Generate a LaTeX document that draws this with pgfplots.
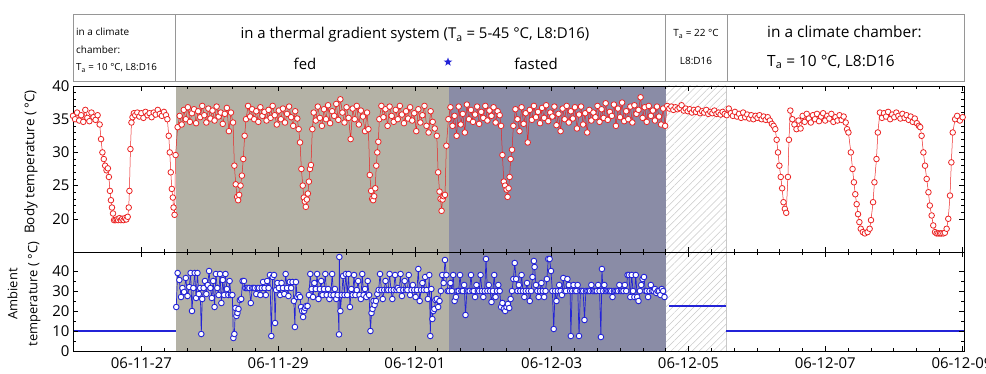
\documentclass[border=0pt]{standalone}
\usepackage{fontspec}
\setmainfont{Open Sans}
\usepackage{pgfplots}
\pgfplotsset{compat=1.18}
\usetikzlibrary{patterns.meta,shapes.geometric}
\definecolor{fedc}{RGB}{180,178,166}
\definecolor{fastc}{RGB}{138,140,166}
\definecolor{bodyred}{RGB}{235,35,35}
\definecolor{ambblue}{RGB}{35,35,215}
\definecolor{boxgray}{RGB}{150,150,150}
\definecolor{hatchc}{RGB}{200,200,200}
\begin{document}
\begin{tikzpicture}
\path[use as bounding box] (0,0) rectangle (986bp,374bp);
\pgfplotsset{
 common/.style={
  scale only axis, width=891bp,
  xmin=-1, xmax=12.03,
  xtick={0,2,...,12}, minor x tick num=5,
  tick align=inside, ticks=both,
  major tick length=5bp, minor tick length=3bp,
  axis on top, axis line style={line width=0.8pt},
  every tick/.style={black, line width=0.5pt},
  /pgf/number format/assume math mode=true,
  ticklabel style={font=\fontsize{15}{17}\selectfont},
  xticklabel style={yshift=-3bp},
 },
}
% ---------------- body temperature ----------------
\begin{axis}[common, at={(73bp,122bp)}, anchor=south west, height=166bp,
  ymin=15, ymax=40, ytick={20,25,...,40}, minor y tick num=4, xticklabels={}]
\fill[fedc] (axis cs:0.5,15) rectangle (axis cs:4.5,40);
\fill[fastc] (axis cs:4.5,15) rectangle (axis cs:7.67,40);
\fill[pattern={Lines[angle=45,distance=5pt,line width=0.5pt]}, pattern color=hatchc] (axis cs:7.67,15) rectangle (axis cs:8.55,40);
\draw[hatchc] (axis cs:8.55,15) -- (axis cs:8.55,40);
\addplot[bodyred, line width=0.5pt, mark=*, mark size=2.8bp, mark options={fill=white, draw=bodyred, line width=0.8pt}] table {
x y
-1.00 35.5
-0.97 35.0
-0.94 36.0
-0.91 34.8
-0.88 35.6
-0.85 34.6
-0.82 36.4
-0.79 35.2
-0.76 34.7
-0.73 36.0
-0.70 35.3
-0.67 34.9
-0.64 35.6
-0.61 34.2
-0.59 32.0
-0.57 30.0
-0.55 29.0
-0.53 28.0
-0.51 27.3
-0.49 27.6
-0.475 26.3
-0.46 24.2
-0.445 22.8
-0.43 21.7
-0.415 20.8
-0.40 19.8
-0.38 19.8
-0.36 19.9
-0.34 19.8
-0.32 20.1
-0.30 19.8
-0.28 20.0
-0.26 19.8
-0.24 20.1
-0.22 19.9
-0.20 20.3
-0.185 21.7
-0.175 24.2
-0.16 30.5
-0.145 34.5
-0.13 35.3
-0.11 35.9
-0.09 35.6
-0.06 36.0
-0.03 35.4
0.00 35.9
0.03 35.2
0.06 36.1
0.09 35.6
0.12 35.9
0.15 35.3
0.18 36.0
0.21 35.7
0.24 36.4
0.27 35.8
0.30 35.5
0.33 36.1
0.36 35.6
0.38 35.0
0.40 32.5
0.415 30.0
0.43 27.0
0.445 24.5
0.46 23.2
0.47 21.7
0.485 20.6
0.50 29.6
0.53 33.8
0.56 35.5
0.59 34.2
0.62 36.4
0.65 35.0
0.68 36.8
0.71 34.6
0.74 35.9
0.77 36.5
0.80 34.4
0.83 36.2
0.86 35.3
0.89 37.0
0.92 35.6
0.95 34.5
0.98 36.6
1.01 35.1
1.04 36.3
1.07 34.8
1.10 36.9
1.13 35.4
1.16 36.0
1.19 34.3
1.22 35.8
1.25 36.7
1.28 33.2
1.31 36.0
1.34 34.5
1.36 28.0
1.38 25.2
1.40 23.3
1.415 22.8
1.43 23.6
1.45 25.0
1.47 26.5
1.49 29.0
1.51 32.5
1.53 35.0
1.56 37.0
1.59 35.4
1.62 36.5
1.65 35.0
1.68 36.2
1.71 34.6
1.74 36.8
1.77 35.5
1.80 36.1
1.83 34.8
1.86 36.4
1.89 35.2
1.92 37.0
1.95 35.6
1.98 34.2
2.01 36.3
2.04 35.0
2.07 36.6
2.10 34.5
2.13 35.8
2.16 36.9
2.19 35.3
2.22 34.0
2.25 36.2
2.28 35.1
2.30 33.5
2.32 31.5
2.34 27.5
2.36 25.0
2.375 23.2
2.39 22.6
2.405 21.8
2.42 22.9
2.435 23.8
2.45 25.6
2.465 27.5
2.48 28.1
2.50 33.5
2.52 36.0
2.55 34.8
2.58 36.9
2.61 35.2
2.64 34.0
2.67 36.5
2.70 35.0
2.73 37.1
2.76 34.4
2.79 36.2
2.82 35.5
2.85 37.3
2.88 34.9
2.91 38.0
2.94 36.0
2.97 34.5
3.00 36.8
3.03 35.2
3.06 32.0
3.09 36.6
3.12 35.0
3.15 37.0
3.18 34.2
3.21 36.3
3.24 35.4
3.27 33.2
3.30 36.0
3.32 33.5
3.34 26.6
3.36 24.2
3.375 23.0
3.39 22.8
3.405 23.4
3.42 24.6
3.435 28.0
3.45 30.0
3.465 31.6
3.48 35.0
3.51 37.0
3.54 35.3
3.57 36.5
3.60 34.0
3.63 36.9
3.66 35.5
3.69 34.6
3.72 36.4
3.75 35.0
3.78 37.0
3.81 35.7
3.84 34.4
3.87 36.2
3.90 35.1
3.93 36.8
3.96 34.8
3.99 35.9
4.02 33.2
4.05 36.5
4.08 34.5
4.11 35.6
4.14 37.0
4.17 34.0
4.20 33.0
4.23 36.2
4.26 34.6
4.29 33.6
4.32 32.5
4.34 27.0
4.36 24.1
4.375 23.0
4.39 21.2
4.405 22.9
4.42 23.4
4.44 23.6
4.46 31.0
4.49 35.0
4.52 36.8
4.55 34.0
4.58 35.5
4.61 32.5
4.64 36.9
4.67 34.2
4.70 35.8
4.73 33.0
4.76 37.2
4.79 35.0
4.82 36.4
4.85 34.6
4.88 35.7
4.91 36.9
4.94 34.3
4.97 36.1
5.00 35.2
5.03 37.0
5.06 34.8
5.09 36.3
5.12 35.5
5.15 36.8
5.18 34.5
5.21 36.2
5.24 35.6
5.26 34.0
5.28 29.6
5.30 25.6
5.32 25.0
5.34 24.4
5.355 23.3
5.37 24.6
5.385 26.3
5.40 29.0
5.42 30.4
5.44 34.0
5.47 36.5
5.50 35.0
5.53 33.2
5.56 36.8
5.59 34.3
5.62 35.9
5.65 31.5
5.68 36.4
5.71 34.9
5.74 37.0
5.77 35.3
5.80 36.1
5.83 34.4
5.86 36.7
5.89 35.2
5.92 37.1
5.95 34.7
5.98 36.0
6.01 35.4
6.04 36.9
6.07 34.1
6.10 35.8
6.13 33.2
6.16 36.6
6.19 35.0
6.22 37.0
6.25 34.5
6.28 36.2
6.31 35.1
6.34 36.8
6.37 33.6
6.40 35.7
6.43 36.9
6.46 34.2
6.49 35.9
6.52 33.0
6.55 36.4
6.58 34.8
6.61 36.0
6.64 35.3
6.67 37.0
6.70 34.6
6.73 36.5
6.76 35.2
6.79 37.4
6.82 34.9
6.85 36.1
6.88 35.5
6.91 37.2
6.94 34.0
6.97 36.6
7.00 35.3
7.03 37.5
7.06 34.7
7.09 36.2
7.12 35.0
7.15 36.9
7.18 34.5
7.21 37.1
7.24 35.8
7.27 36.4
7.30 38.3
7.33 35.2
7.36 36.8
7.39 34.6
7.42 37.0
7.45 35.5
7.48 36.3
7.51 34.8
7.54 36.9
7.57 35.4
7.60 34.2
7.63 36.6
7.66 34.0
7.69 37.0
7.72 36.6
7.75 36.9
7.78 36.4
7.81 36.8
7.84 36.5
7.87 36.7
7.90 37.1
7.93 36.3
7.96 36.6
7.99 36.2
8.02 36.5
8.05 36.0
8.08 36.4
8.11 36.1
8.14 36.5
8.17 35.9
8.20 36.2
8.23 36.0
8.26 36.4
8.29 35.8
8.32 36.1
8.35 35.9
8.38 36.3
8.41 35.8
8.44 36.0
8.47 35.7
8.50 36.1
8.53 35.8
8.56 35.6
8.59 36.6
8.62 35.9
8.65 35.5
8.68 36.1
8.71 35.4
8.74 35.8
8.77 35.2
8.80 36.0
8.83 35.3
8.86 35.7
8.89 35.1
8.92 35.6
8.95 35.0
8.98 35.5
9.01 35.2
9.04 35.6
9.07 35.0
9.10 35.4
9.13 34.9
9.16 35.3
9.19 34.8
9.22 34.3
9.245 34.0
9.27 33.5
9.29 31.9
9.31 30.0
9.33 28.0
9.35 26.3
9.37 24.6
9.39 22.5
9.41 21.5
9.43 20.9
9.455 26.3
9.47 31.9
9.49 36.3
9.52 35.0
9.55 34.2
9.58 33.5
9.61 34.8
9.64 33.6
9.67 35.5
9.70 34.6
9.73 35.8
9.76 35.1
9.79 34.5
9.82 35.6
9.85 35.0
9.88 35.8
9.91 34.7
9.94 35.4
9.97 35.9
10.00 34.8
10.03 35.5
10.06 35.1
10.09 35.8
10.12 34.6
10.15 35.3
10.18 34.8
10.21 35.6
10.24 34.9
10.27 35.4
10.30 34.5
10.32 33.5
10.34 33.0
10.375 30.0
10.40 27.5
10.42 25.5
10.44 23.7
10.46 22.2
10.48 20.7
10.50 19.5
10.52 18.5
10.55 18.0
10.58 17.8
10.62 18.0
10.65 18.5
10.67 19.8
10.70 22.5
10.72 25.5
10.75 29.0
10.77 33.0
10.80 36.0
10.83 35.2
10.86 35.9
10.89 35.4
10.92 36.1
10.95 35.0
10.98 35.7
11.01 35.3
11.04 36.0
11.07 35.5
11.10 35.1
11.13 35.8
11.16 35.2
11.19 35.6
11.22 34.9
11.25 35.4
11.28 34.6
11.31 35.1
11.34 34.4
11.37 34.0
11.39 33.8
11.41 32.5
11.436 30.0
11.46 28.0
11.484 26.0
11.51 24.0
11.53 22.0
11.557 20.5
11.58 19.0
11.606 18.0
11.63 17.8
11.655 17.8
11.68 17.8
11.70 17.8
11.728 17.8
11.75 17.9
11.776 18.5
11.80 20.0
11.825 23.5
11.845 28.5
11.865 33.0
11.90 35.0
11.93 35.5
11.97 34.8
12.01 35.3
};
\end{axis}
% ---------------- ambient temperature ----------------
\begin{axis}[common, at={(73bp,23bp)}, anchor=south west, height=99bp,
  ymin=0, ymax=49.5, ytick={0,10,...,40}, minor y tick num=1,
  xticklabels={06-11-27,06-11-29,06-12-01,06-12-03,06-12-05,06-12-07,06-12-09}]
\fill[fedc] (axis cs:0.5,0) rectangle (axis cs:4.5,49.5);
\fill[fastc] (axis cs:4.5,0) rectangle (axis cs:7.67,49.5);
\fill[pattern={Lines[angle=45,distance=5pt,line width=0.5pt]}, pattern color=hatchc] (axis cs:7.67,0) rectangle (axis cs:8.55,49.5);
\draw[hatchc] (axis cs:8.55,0) -- (axis cs:8.55,49.5);
\addplot[ambblue, line width=2pt] coordinates {(-1,10.2) (0.5,10.2)};
\addplot[ambblue, line width=2pt] coordinates {(7.71,22.6) (8.55,22.6)};
\addplot[ambblue, line width=2pt] coordinates {(8.55,10.2) (12.03,10.2)};
\addplot[ambblue, line width=0.7pt, mark=*, mark size=2.8bp, mark options={fill=white, draw=ambblue, line width=0.9pt}] table {
x y
0.51 22.0
0.53 39.0
0.555 35.5
0.58 27.0
0.60 31.5
0.625 29.5
0.65 36.5
0.675 27.5
0.70 32.0
0.72 39.0
0.74 20.0
0.76 31.5
0.78 39.0
0.80 26.5
0.82 39.0
0.84 28.5
0.86 31.5
0.876 8.5
0.89 26.0
0.91 31.5
0.93 35.0
0.95 28.5
0.97 33.0
0.99 40.0
1.01 31.5
1.03 26.5
1.05 35.0
1.07 22.0
1.09 38.5
1.11 31.5
1.13 28.0
1.15 38.5
1.17 24.0
1.19 35.5
1.21 28.0
1.23 38.5
1.25 31.0
1.27 28.0
1.29 35.0
1.31 28.0
1.33 28.0
1.345 6.5
1.36 8.5
1.375 21.5
1.39 17.5
1.405 19.0
1.42 21.0
1.44 25.5
1.46 26.0
1.48 35.0
1.50 35.0
1.52 31.5
1.54 31.5
1.56 31.5
1.58 31.5
1.60 24.0
1.62 31.5
1.64 31.5
1.66 31.5
1.68 28.5
1.70 31.5
1.72 31.5
1.74 28.0
1.76 31.5
1.78 34.5
1.80 31.5
1.82 28.0
1.84 35.0
1.86 31.5
1.88 38.0
1.90 7.5
1.92 37.0
1.94 38.0
1.955 14.0
1.97 30.5
1.99 34.0
2.01 31.5
2.03 28.0
2.05 34.0
2.07 31.5
2.09 28.5
2.11 38.5
2.13 31.5
2.15 27.5
2.17 34.5
2.19 31.5
2.21 34.5
2.23 25.0
2.245 12.0
2.26 34.5
2.28 27.0
2.30 28.0
2.32 27.0
2.335 22.0
2.35 20.0
2.365 17.0
2.38 20.0
2.395 21.5
2.41 22.5
2.43 22.5
2.45 28.0
2.47 38.5
2.49 31.0
2.51 27.0
2.53 34.0
2.55 31.0
2.57 38.5
2.59 26.0
2.61 31.0
2.63 35.0
2.65 28.0
2.67 31.0
2.69 38.5
2.71 28.0
2.73 31.0
2.75 26.0
2.77 28.0
2.79 38.5
2.81 28.0
2.83 31.0
2.85 26.0
2.87 28.0
2.89 8.3
2.895 47.0
2.91 20.0
2.93 28.0
2.95 37.5
2.97 28.0
2.99 38.5
3.01 28.0
3.03 38.5
3.05 22.0
3.07 31.0
3.09 28.0
3.11 38.0
3.13 28.0
3.15 30.5
3.17 35.0
3.19 28.0
3.21 26.0
3.23 38.5
3.25 28.0
3.27 31.0
3.29 27.0
3.31 35.0
3.33 28.0
3.35 10.0
3.365 19.0
3.38 21.0
3.395 25.0
3.41 23.0
3.43 25.0
3.45 28.5
3.47 30.5
3.49 38.5
3.51 30.5
3.53 26.0
3.55 30.5
3.57 35.0
3.59 30.5
3.61 30.5
3.63 38.5
3.65 30.5
3.67 26.0
3.69 30.5
3.71 38.0
3.73 30.5
3.75 31.5
3.77 30.5
3.79 38.5
3.81 27.5
3.83 30.5
3.85 35.0
3.87 30.5
3.89 30.5
3.91 38.0
3.93 28.0
3.95 30.5
3.97 33.0
3.99 30.5
4.01 27.0
4.03 30.5
4.05 41.0
4.07 25.0
4.09 30.5
4.11 34.0
4.13 30.5
4.15 37.0
4.17 30.5
4.19 26.0
4.21 38.0
4.225 7.5
4.24 31.0
4.255 16.0
4.27 20.0
4.285 21.0
4.30 25.5
4.32 26.0
4.34 22.0
4.36 25.0
4.38 30.0
4.40 38.0
4.42 34.0
4.44 45.5
4.46 38.0
4.48 30.0
4.50 30.0
4.52 34.0
4.54 30.0
4.56 38.0
4.58 25.0
4.60 27.0
4.62 30.0
4.64 30.0
4.66 38.0
4.68 30.0
4.70 30.0
4.72 33.0
4.74 18.0
4.76 30.0
4.78 30.0
4.80 30.0
4.82 38.0
4.84 30.0
4.86 30.0
4.88 27.0
4.90 33.0
4.92 30.0
4.94 30.0
4.96 38.0
4.98 30.0
5.00 27.0
5.02 30.0
5.04 46.0
5.06 30.0
5.08 33.0
5.10 30.0
5.12 24.5
5.14 30.0
5.16 38.0
5.18 27.0
5.20 30.0
5.22 33.0
5.24 30.0
5.26 22.0
5.28 24.0
5.30 21.0
5.32 20.0
5.34 22.0
5.36 23.5
5.38 21.5
5.40 26.0
5.42 30.0
5.44 36.0
5.46 44.0
5.48 36.0
5.50 30.0
5.52 33.0
5.54 30.0
5.56 38.0
5.58 30.0
5.60 27.0
5.62 30.0
5.64 34.0
5.66 30.0
5.68 25.0
5.70 30.0
5.72 37.0
5.74 45.0
5.75 42.0
5.77 33.0
5.79 30.0
5.81 27.0
5.83 30.0
5.85 34.0
5.87 30.0
5.89 27.0
5.91 30.0
5.93 36.0
5.95 46.0
5.97 46.0
5.99 40.0
6.01 30.0
6.03 11.0
6.05 30.0
6.07 25.0
6.09 30.0
6.11 33.0
6.13 30.0
6.15 28.0
6.17 36.5
6.19 30.0
6.21 30.0
6.23 36.0
6.25 33.0
6.27 30.0
6.28 7.5
6.30 30.0
6.32 33.0
6.34 30.0
6.36 30.0
6.38 33.0
6.40 7.5
6.42 30.0
6.44 30.0
6.46 30.0
6.48 15.5
6.50 30.0
6.52 30.0
6.54 30.0
6.56 30.0
6.58 33.0
6.60 30.0
6.62 30.0
6.64 30.0
6.66 30.0
6.68 33.0
6.70 30.0
6.72 7.0
6.735 41.0
6.75 30.0
6.77 33.0
6.79 30.0
6.81 30.0
6.83 30.0
6.85 30.0
6.87 30.0
6.89 27.0
6.91 30.0
6.93 30.0
6.95 30.0
6.97 30.0
6.99 33.0
7.01 30.0
7.03 30.0
7.05 30.0
7.07 33.0
7.09 30.0
7.11 38.0
7.13 38.0
7.15 27.0
7.17 38.0
7.19 30.0
7.21 27.0
7.23 38.0
7.25 27.0
7.27 25.0
7.29 30.0
7.31 33.0
7.33 36.0
7.35 37.0
7.37 30.0
7.39 30.0
7.41 27.0
7.43 30.0
7.45 33.0
7.47 30.0
7.49 30.0
7.51 31.0
7.53 29.0
7.55 30.0
7.57 30.0
7.59 28.0
7.61 31.0
7.63 30.0
7.65 27.0
};
\end{axis}
% ---------------- axis titles ----------------
\node[rotate=90, font=\fontsize{13.5}{15}\selectfont] at (31bp,212bp) {Body temperature ( °C)};
\node[rotate=90, align=center, font=\fontsize{13}{20}\selectfont] at (24bp,80bp) {Ambient\\temperature ( °C)};
% ---------------- header ----------------
\draw[boxgray, line width=1pt] (73bp,292bp) rectangle (964bp,359bp);
\draw[boxgray, line width=1pt] (175bp,292bp) -- (175bp,359bp);
\draw[boxgray, line width=1pt] (665bp,292bp) -- (665bp,359bp);
\draw[boxgray, line width=1pt] (727bp,292bp) -- (727bp,359bp);
\begin{scope}[every node/.style={inner sep=0pt}]
\node[anchor=west, font=\fontsize{10}{11}\selectfont] at (76bp,342bp) {in a climate};
\node[anchor=west, font=\fontsize{10}{11}\selectfont] at (76bp,324bp) {chamber:};
\node[anchor=west, font=\fontsize{9.8}{11}\selectfont] at (76bp,306bp) {T\textsubscript{a} = 10 °C, L8:D16};
\node[font=\fontsize{15}{17}\selectfont] at (415bp,339bp) {in a thermal gradient system (T\textsubscript{a} = 5-45 °C, L8:D16)};
\node[font=\fontsize{15}{17}\selectfont] at (305bp,310bp) {fed};
\node[font=\fontsize{15}{17}\selectfont] at (536bp,310bp) {fasted};
\node[star, star points=5, star point ratio=2.4, fill=ambblue, minimum size=9bp] at (448bp,312bp) {};
\node[font=\fontsize{10}{11}\selectfont] at (696bp,340bp) {T\textsubscript{a} = 22 °C};
\node[font=\fontsize{10}{11}\selectfont] at (696bp,313bp) {L8:D16};
\node[anchor=west, font=\fontsize{15.5}{17}\selectfont] at (767bp,342bp) {in a climate chamber:};
\node[anchor=west, font=\fontsize{15.5}{17}\selectfont] at (767bp,312bp) {T\textsubscript{a} = 10 °C, L8:D16};
\end{scope}
\end{tikzpicture}
\end{document}
